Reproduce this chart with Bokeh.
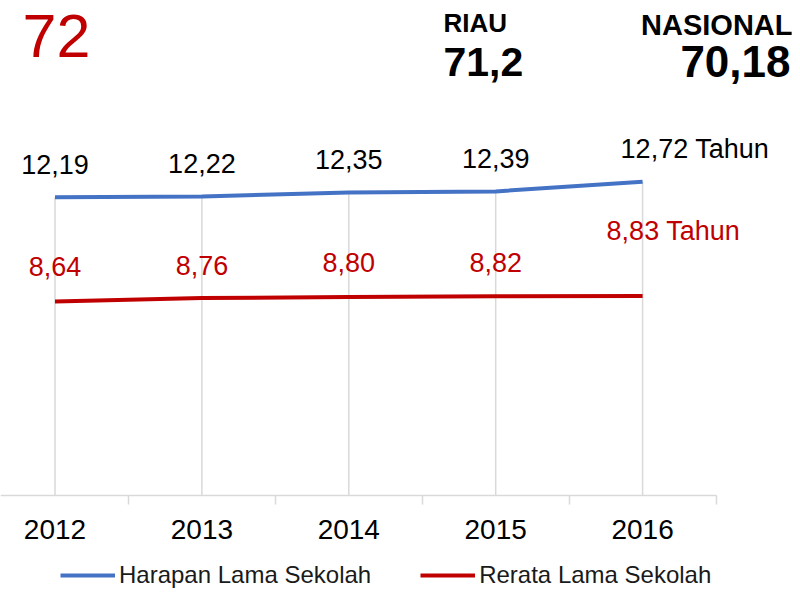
from bokeh.plotting import figure
from bokeh.models import (ColumnDataSource, LabelSet, Label, Range1d, FixedTicker,
                          Legend, LegendItem)
from bokeh.core.properties import value
from bokeh.embed import file_html
from bokeh.resources import INLINE

# ---- data ----
years = ["2012", "2013", "2014", "2015", "2016"]
harapan = [12.19, 12.22, 12.35, 12.39, 12.72]
rerata = [8.64, 8.76, 8.80, 8.82, 8.83]
series_names = ["Harapan Lama Sekolah", "Rerata Lama Sekolah"]
head_value = "72"
riau_label, riau_value = "RIAU", "71,2"
nasional_label, nasional_value = "NASIONAL", "70,18"
unit = " Tahun"

BLUE = "#4472C4"
RED = "#C00000"
GRID = "#D9D9D9"
FONT = "Liberation Sans"

def fmt(v):
    return f"{v:.2f}".replace(".", ",")

xs = list(range(len(years)))
n = len(years)

# ---- layout (screen px) ----
W, H = 792, 589
axis_y = 495                 # screen y of the category axis
px_per_unit = 29.38
y_base = 2.04                # value at the axis line
y_start = y_base - (H - axis_y) / px_per_unit
y_end = y_base + axis_y / px_per_unit
px_per_cat = 146.9
x_start = -54.5 / px_per_cat
x_end = x_start + W / px_per_cat

p = figure(width=W, height=H, output_backend="svg", toolbar_location=None,
           x_range=Range1d(x_start, x_end), y_range=Range1d(y_start, y_end),
           y_axis_location=None, min_border_left=0, min_border_right=0,
           min_border_top=0, min_border_bottom=0)
p.outline_line_color = None
p.xgrid.visible = False
p.ygrid.visible = False
p.background_fill_color = "white"
p.border_fill_color = "white"

# x axis, drawn at the base value inside the frame
ax = p.xaxis[0]
ax.fixed_location = y_base
ax.ticker = FixedTicker(ticks=xs, minor_ticks=[i + 0.5 for i in range(-1, n)])
ax.bounds = (x_start, n - 0.5)
ax.major_label_overrides = {i: y for i, y in zip(xs, years)}
ax.axis_line_color = GRID
ax.axis_line_width = 1.5
ax.major_tick_line_color = None
ax.major_tick_out = 0
ax.major_tick_in = 0
ax.minor_tick_line_color = GRID
ax.minor_tick_line_width = 1.5
ax.minor_tick_out = 9
ax.minor_tick_in = 0
ax.major_label_text_font = FONT
ax.major_label_text_font_size = "28px"
ax.major_label_text_color = "black"
ax.major_label_standoff = 15

# drop lines
p.segment(x0=xs, y0=[y_base] * n, x1=xs, y1=[max(a, b) for a, b in zip(harapan, rerata)],
          line_color=GRID, line_width=1.5)

r1 = p.line(xs, harapan, line_color=BLUE, line_width=4)
r2 = p.line(xs, rerata, line_color=RED, line_width=4)

# data labels
h_text = [fmt(v) for v in harapan]
h_text[-1] += unit
r_text = [fmt(v) for v in rerata]
r_text[-1] += unit

src_h = ColumnDataSource(dict(x=xs, y=harapan, t=h_text,
                              xo=[0, 0, 0, 0, -22], yo=[33, 33, 33, 33, 33],
                              al=["center"] * 4 + ["left"]))
src_r = ColumnDataSource(dict(x=xs, y=rerata, t=r_text,
                              xo=[0, 0, 0, 0, -36], yo=[35, 33, 34, 34, 65],
                              al=["center"] * 4 + ["left"]))
for src, col in ((src_h, "black"), (src_r, RED)):
    p.add_layout(LabelSet(x="x", y="y", text="t", source=src, x_offset="xo", y_offset="yo",
                          text_align="al", text_baseline="middle", text_font=value(FONT),
                          text_font_size="27px", text_color=col))

# header texts (screen px of the text's vertical centre, relative to frame bottom-left)
def add_label(text, sx, sy, size, color="black", bold=False, align="left"):
    p.add_layout(Label(x=sx, y=H - sy, x_units="screen", y_units="screen",
                       text=text, text_font=FONT, text_font_size=size, text_color=color,
                       text_font_style="bold" if bold else "normal",
                       text_align=align, text_baseline="middle"))

add_label(head_value, 22, 35, "61px", color=RED)
add_label(riau_label, 443, 22.5, "26px", bold=True)
add_label(riau_value, 443, 61, "41px", bold=True)
add_label(nasional_label, 792, 24, "29px", bold=True, align="right")
add_label(nasional_value, 790, 61, "44px", bold=True, align="right")

legend = Legend(items=[LegendItem(label=series_names[0], renderers=[r1]),
                       LegendItem(label=series_names[1], renderers=[r2])],
                orientation="horizontal", location=(60, 0),
                label_text_font=FONT, label_text_font_size="24px",
                label_text_color="#1a1a1a",
                glyph_width=55, glyph_height=24, label_height=24, label_standoff=4,
                spacing=49, padding=0, margin=0, border_line_color=None,
                background_fill_alpha=0)
p.add_layout(legend, "center")

open("out.html", "w").write(file_html(p, INLINE))
